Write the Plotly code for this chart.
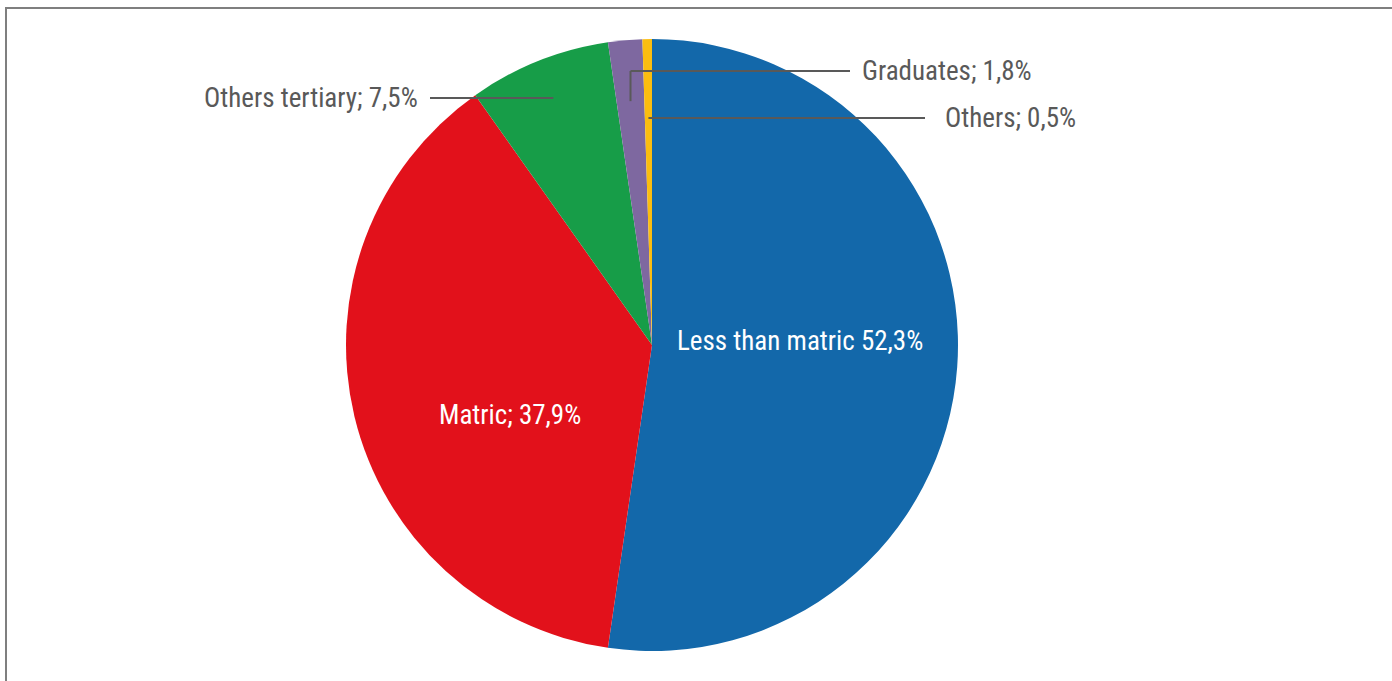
import math
import plotly.graph_objects as go

# Education level shares (percent)
categories = ["Less than matric", "Matric", "Others tertiary", "Graduates", "Others"]
shares = [52.3, 37.9, 7.5, 1.8, 0.5]
colors = ["#1368AA", "#E2111B", "#179D48", "#7E68A0", "#FBBD10"]

W, H = 1392, 681
FONT = "Liberation Sans Narrow, Arial Narrow, Roboto Condensed, Liberation Sans, sans-serif"
TEXT_GRAY = "#595959"

# Pie placement in pixels
cx, cy, r = 652, 345, 306
dom_x = [(cx - r) / W, (cx + r) / W]
dom_y = [1 - (cy + r) / H, 1 - (cy - r) / H]


def fmt(v):
    return f"{v:.1f}".replace(".", ",")


fig = go.Figure(
    go.Pie(
        labels=categories,
        values=shares,
        sort=False,
        direction="clockwise",
        rotation=0,
        marker=dict(colors=colors, line=dict(width=0)),
        textinfo="none",
        hovertemplate="%{label}: %{value}%<extra></extra>",
        domain=dict(x=dom_x, y=dom_y),
        showlegend=False,
    )
)

# Slice mid-angles (clockwise from 12 o'clock) from the data
total = sum(shares)
mids = []
acc = 0.0
for v in shares:
    mids.append((acc + v / 2) / total * 360)
    acc += v


def px_point(angle_deg, frac):
    a = math.radians(angle_deg)
    return cx + frac * r * math.sin(a), cy - frac * r * math.cos(a)


def to_paper(x, y):
    return x / W, 1 - y / H


shapes = []
annotations = []


def line(x0, y0, x1, y1):
    p0 = to_paper(x0, y0)
    p1 = to_paper(x1, y1)
    shapes.append(dict(type="line", xref="paper", yref="paper",
                       x0=p0[0], y0=p0[1], x1=p1[0], y1=p1[1],
                       line=dict(color=TEXT_GRAY, width=2)))


def label(text, x, y, anchor, color=TEXT_GRAY):
    px, py = to_paper(x, y)
    annotations.append(dict(text=text, x=px, y=py, xref="paper", yref="paper",
                            xanchor=anchor, yanchor="middle", showarrow=False,
                            font=dict(family=FONT, size=27, color=color)))


# Inside labels
label(f"{categories[0]} {fmt(shares[0])}%", 800, 341, "center", "white")
label(f"{categories[1]}; {fmt(shares[1])}%", 510, 415, "center", "white")

# Others tertiary: horizontal leader into the green slice
y_ot = 98
a = math.radians(mids[2])
d = (cy - y_ot) / math.cos(a)
gx = cx + d * math.sin(a)
line(430, y_ot, gx, y_ot)
label(f"{categories[2]}; {fmt(shares[2])}%", 420, y_ot, "right")

# Graduates: elbow leader from the purple slice
gx2, gy2 = px_point(mids[3], 0.8)
y_gr = 71
line(gx2, gy2, gx2, y_gr)
line(gx2, y_gr, 850, y_gr)
label(f"{categories[3]}; {fmt(shares[3])}%", 860, y_gr, "left")

# Others: horizontal leader from the yellow slice
y_o = 118
a = math.radians(mids[4])
d = (cy - y_o) / math.cos(a)
ox = cx + d * math.sin(a)
line(ox, y_o, 925, y_o)
label(f"{categories[4]}; {fmt(shares[4])}%", 943, y_o, "left")

# Outer frame
fx0, fy1 = to_paper(6, 8)
shapes.append(dict(type="rect", xref="paper", yref="paper",
                   x0=fx0, y0=-0.02, x1=1.02, y1=fy1,
                   line=dict(color="#7F7F7F", width=2), fillcolor="rgba(0,0,0,0)"))

fig.update_layout(
    width=W, height=H,
    margin=dict(l=0, r=0, t=0, b=0),
    paper_bgcolor="white",
    plot_bgcolor="white",
    shapes=shapes,
    annotations=annotations,
)

fig.write_html("out.html")
